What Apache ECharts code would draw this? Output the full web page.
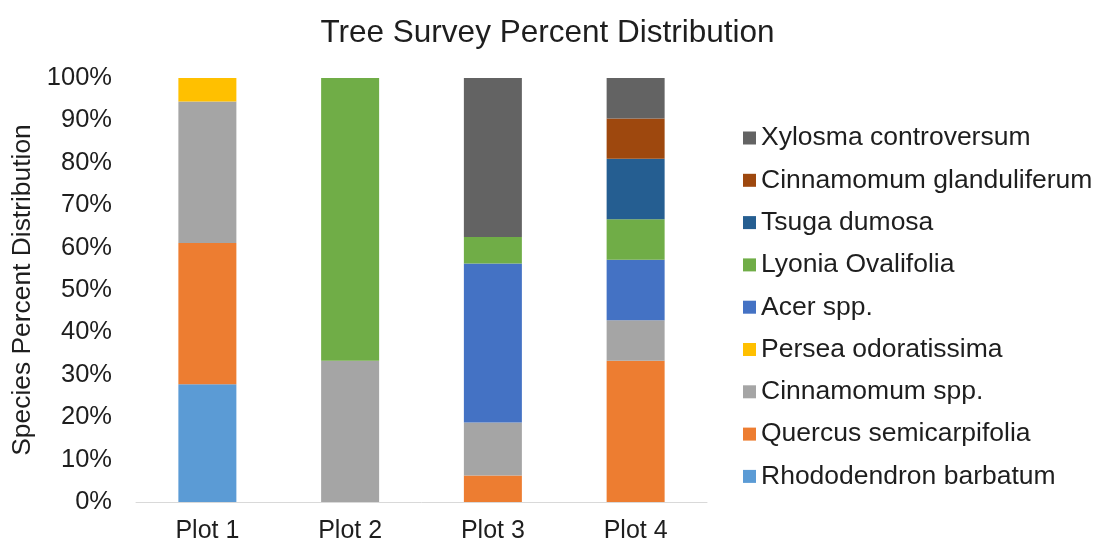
<!DOCTYPE html>
<html>
<head>
<meta charset="utf-8">
<script src="https://cdn.jsdelivr.net/npm/echarts@6/dist/echarts.min.js"></script>
<style>
  html, body { margin: 0; padding: 0; background: #ffffff; }
  #chart { width: 1095px; height: 545px; }
</style>
</head>
<body>
<div id="chart"></div>
<script>
// Survey plots along the x axis
const plots = ['Plot 1', 'Plot 2', 'Plot 3', 'Plot 4'];

// Percent share of each species per plot (stacked bottom to top)
const rhododendronBarbatum   = [27.78, 0, 0, 0];
const quercusSemicarpifolia  = [33.33, 0, 6.25, 33.33];
const cinnamomumSpp          = [33.33, 33.33, 12.5, 9.52];
const perseaOdoratissima     = [5.56, 0, 0, 0];
const acerSpp                = [0, 0, 37.5, 14.29];
const lyoniaOvalifolia       = [0, 66.67, 6.25, 9.52];
const tsugaDumosa            = [0, 0, 0, 14.29];
const cinnamomumGlanduliferum = [0, 0, 0, 9.52];
const xylosmaControversum    = [0, 0, 37.5, 9.53];

const yTicks = [0, 10, 20, 30, 40, 50, 60, 70, 80, 90, 100];

const speciesSeries = [
  { name: 'Rhododendron barbatum', data: rhododendronBarbatum, color: '#5B9BD5' },
  { name: 'Quercus semicarpifolia', data: quercusSemicarpifolia, color: '#ED7D31' },
  { name: 'Cinnamomum spp.', data: cinnamomumSpp, color: '#A5A5A5' },
  { name: 'Persea odoratissima', data: perseaOdoratissima, color: '#FFC000' },
  { name: 'Acer spp.', data: acerSpp, color: '#4472C4' },
  { name: 'Lyonia Ovalifolia', data: lyoniaOvalifolia, color: '#70AD47' },
  { name: 'Tsuga dumosa', data: tsugaDumosa, color: '#255E91' },
  { name: 'Cinnamomum glanduliferum', data: cinnamomumGlanduliferum, color: '#9E480E' },
  { name: 'Xylosma controversum', data: xylosmaControversum, color: '#636363' }
];

const font = '"Liberation Sans", Arial, sans-serif';
const textColor = '#1e1e1e';

const chart = echarts.init(document.getElementById('chart'), null, { renderer: 'canvas' });

chart.setOption({
  animation: false,
  backgroundColor: '#ffffff',
  title: {
    text: 'Tree Survey Percent Distribution',
    left: 'center',
    top: 12,
    textStyle: { fontFamily: font, fontSize: 31.5, fontWeight: 'normal', color: textColor }
  },
  legend: {
    orient: 'vertical',
    left: 738,
    top: 118,
    itemWidth: 13,
    itemHeight: 13,
    itemGap: 12.3,
    icon: 'rect',
    data: speciesSeries.map(s => s.name).reverse(),
    textStyle: { fontFamily: font, fontSize: 26.5, color: textColor, lineHeight: 30 }
  },
  grid: { left: 136, right: 388, top: 78, bottom: 43, containLabel: false },
  xAxis: {
    type: 'category',
    data: plots,
    axisLine: { lineStyle: { color: '#d9d9d9', width: 1 } },
    axisTick: { show: false },
    axisLabel: { fontFamily: font, fontSize: 25, color: textColor, margin: 17 }
  },
  yAxis: {
    type: 'value',
    min: yTicks[0],
    max: yTicks[yTicks.length - 1],
    interval: 10,
    name: 'Species Percent Distribution',
    nameLocation: 'middle',
    nameRotate: 90,
    nameGap: 99,
    nameTextStyle: { fontFamily: font, fontSize: 26.4, color: textColor },
    axisLine: { show: false },
    axisTick: { show: false },
    splitLine: { show: false },
    axisLabel: { fontFamily: font, fontSize: 25.5, color: textColor, margin: 24, formatter: '{value}%' }
  },
  series: speciesSeries.map(s => ({
    name: s.name,
    type: 'bar',
    stack: 'total',
    barWidth: 58,
    data: s.data,
    itemStyle: { color: s.color }
  }))
});
</script>
</body>
</html>
